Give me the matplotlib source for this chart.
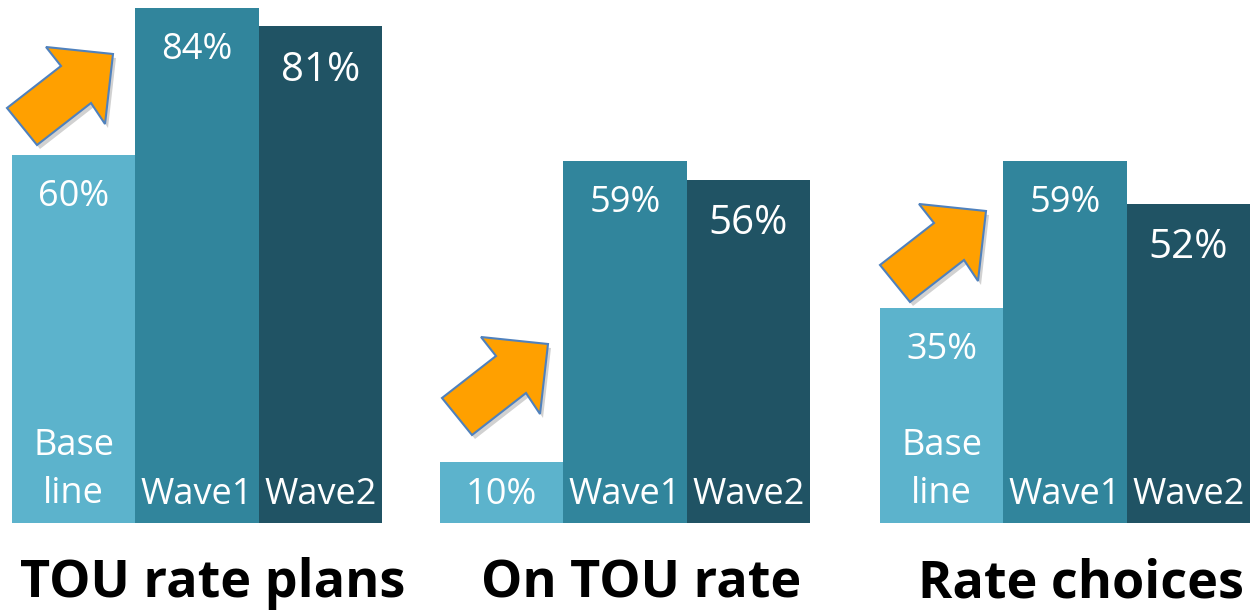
import numpy as np
import matplotlib
matplotlib.use("Agg")
import matplotlib.pyplot as plt
from matplotlib.patches import Polygon

# [Data]______________________________________________________________________

groups = ["TOU rate plans", "On TOU rate", "Rate choices"]
series = ["Baseline", "Wave1", "Wave2"]
baseline = [60, 10, 35]
wave1 = [84, 59, 59]
wave2 = [81, 56, 52]
cat_labels = [["Base\nline", "Wave1", "Wave2"],
              [None, "Wave1", "Wave2"],
              ["Base\nline", "Wave1", "Wave2"]]

# [Layout]____________________________________________________________________

W, H = 1253, 610
px_per_pct = 6.131
bottom_px = 523
group_left = [12, 440, 880]
bar_w = 123.3
colors = ["#5cb3cc", "#31859c", "#205364"]
font = ["Open Sans", "DejaVu Sans"]

fig = plt.figure(figsize=(W / 100, H / 100), dpi=100)
ax = fig.add_axes([0, (H - bottom_px) / H, 1, bottom_px / H])
ax.set_xlim(0, W)
ax.set_ylim(0, bottom_px / px_per_pct)
ax.axis("off")

values = [baseline, wave1, wave2]
for s in range(3):
    xs = [group_left[g] + s * bar_w for g in range(3)]
    ax.bar(xs, values[s], width=bar_w, align="edge", color=colors[s], linewidth=0)

for g in range(3):
    for s in range(3):
        xc = group_left[g] + (s + 0.5) * bar_w
        v = values[s][g]
        size = 29 if s == 2 else 26
        off = -44 if s == 2 else -42
        if v < 20:
            ax.text(xc, v / 2 - 0.5, f"{v}%", color="white", fontsize=size,
                    ha="center", va="center", family=font)
        else:
            ax.annotate(f"{v}%", (xc, v), xytext=(0, off * 0.72), textcoords="offset points",
                        color="white", fontsize=size, ha="center", va="center", family=font)
        lab = cat_labels[g][s]
        if lab is None:
            continue
        if "\n" in lab:
            ax.text(xc, (bottom_px - 470) / px_per_pct, lab, color="white", fontsize=26,
                    ha="center", va="center", family=font, linespacing=1.45)
        else:
            ax.text(xc, (bottom_px - 495) / px_per_pct, lab, color="white", fontsize=26,
                    ha="center", va="center", family=font)

# group titles
for g in range(3):
    xc = group_left[g] + 1.5 * bar_w + 16
    fig.text(xc / W, (H - 597) / H, groups[g], fontsize=37.5, fontweight="bold",
             ha="center", va="baseline", family=font)

# [Arrows]____________________________________________________________________

ov = fig.add_axes([0, 0, 1, 1], zorder=5)
ov.set_xlim(0, W)
ov.set_ylim(H, 0)
ov.axis("off")
ov.patch.set_alpha(0)

arrow_shape = np.array([(0, 0), (30, 37), (84, -5), (98, 16), (106, -54), (39, -61), (54, -42)])
arrow_anchor = [(7, 108), (442, 398), (880, 265)]
for a in arrow_anchor:
    pts = arrow_shape + np.array(a)
    ov.add_patch(Polygon(pts + np.array([3, 4]), closed=True, facecolor="black",
                         alpha=0.18, linewidth=0))
    ov.add_patch(Polygon(pts, closed=True, facecolor="#ffa000", edgecolor="#4f81bd",
                         linewidth=1.5, joinstyle="miter"))

fig.savefig("out.png", dpi=100)
